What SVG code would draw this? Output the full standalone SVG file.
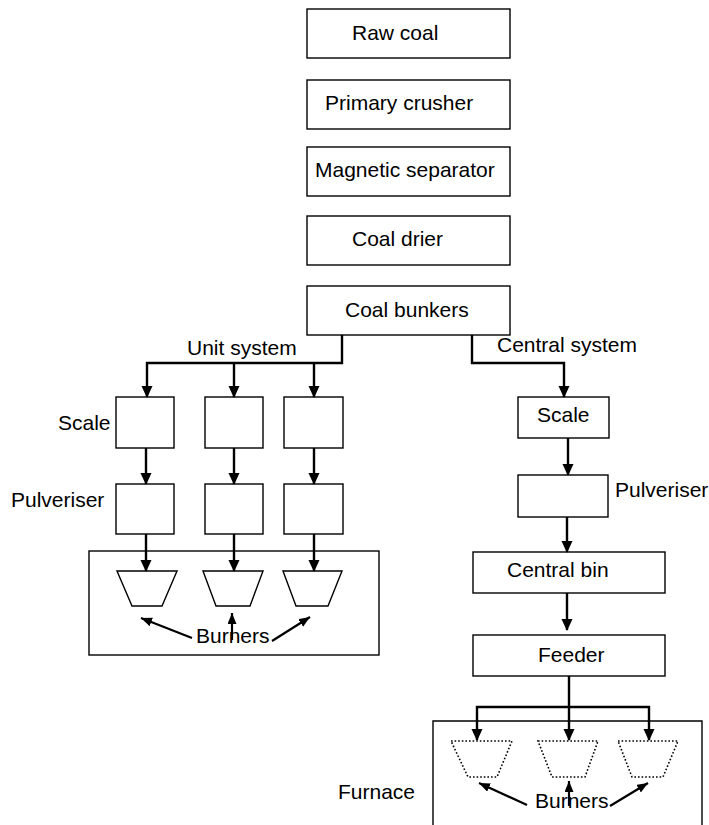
<svg xmlns="http://www.w3.org/2000/svg" width="709" height="825" viewBox="0 0 709 825">
<style>
.box{fill:#fff;stroke:#000;stroke-width:1.4}
.open{fill:none;stroke:#000;stroke-width:1.4}
.tz{fill:none;stroke:#000;stroke-width:1.4}
.tzd{fill:none;stroke:#000;stroke-width:1.6;stroke-dasharray:1.6 2}
.t{font-family:"Liberation Sans",Arial,sans-serif;font-size:21px;fill:#000}
.c{fill:none;stroke:#000;stroke-width:2.4}
.a{fill:none;stroke:#000;stroke-width:2.4;marker-end:url(#ah)}
.b{fill:none;stroke:#000;stroke-width:2.2;marker-end:url(#bh)}
</style>
<defs>
<marker id="ah" markerUnits="userSpaceOnUse" markerWidth="12" markerHeight="14" refX="11" refY="5.5" orient="auto"><path d="M0,0 L12,5.5 L0,11 z" fill="#000"/></marker>
<marker id="bh" markerUnits="userSpaceOnUse" markerWidth="12" markerHeight="12" refX="11" refY="4.5" orient="auto"><path d="M0,0 L11,4.5 L0,9 z" fill="#000"/></marker>
</defs>
<g id="raw-coal"><rect class="box" x="307" y="9" width="203" height="49"/><text class="t" x="352" y="40">Raw coal</text></g>
<g id="primary-crusher"><rect class="box" x="307" y="80" width="203" height="49"/><text class="t" x="325" y="110">Primary crusher</text></g>
<g id="magnetic-separator"><rect class="box" x="307" y="147" width="203" height="49"/><text class="t" x="315" y="177">Magnetic separator</text></g>
<g id="coal-drier"><rect class="box" x="307" y="216" width="203" height="49"/><text class="t" x="352" y="246">Coal drier</text></g>
<g id="coal-bunkers"><rect class="box" x="307" y="286" width="203" height="49"/><text class="t" x="345" y="317">Coal bunkers</text></g>
<g id="unit-scale-1"><rect class="box" x="116" y="397" width="58" height="51"/></g>
<g id="unit-scale-2"><rect class="box" x="205" y="397" width="58" height="51"/></g>
<g id="unit-scale-3"><rect class="box" x="284" y="397" width="59" height="51"/></g>
<g id="unit-pulv-1"><rect class="box" x="116" y="484" width="58" height="50"/></g>
<g id="unit-pulv-2"><rect class="box" x="205" y="484" width="58" height="50"/></g>
<g id="unit-pulv-3"><rect class="box" x="284" y="484" width="59" height="50"/></g>
<g id="unit-furnace">
<rect class="box" x="89" y="551" width="290" height="104"/>
<path class="tz" d="M117,571 H177 L162,606 H132 Z"/>
<path class="tz" d="M203,571 H263 L250,606 H216 Z"/>
<path class="tz" d="M283,571 H342 L328,606 H296 Z"/>
</g>
<g id="central-scale"><rect class="box" x="518" y="397" width="91" height="41"/><text class="t" x="537" y="422">Scale</text></g>
<g id="central-pulv"><rect class="box" x="518" y="475" width="90" height="42"/></g>
<g id="central-bin"><rect class="box" x="473" y="552" width="192" height="41"/><text class="t" x="507" y="577">Central bin</text></g>
<g id="feeder"><rect class="box" x="473" y="635" width="192" height="41"/><text class="t" x="538" y="662">Feeder</text></g>
<g id="central-furnace">
<path class="open" d="M433,825 V721 H702 V825"/>
<path class="tzd" d="M451,741 H512 L497,777 H468 Z"/>
<path class="tzd" d="M538,741 H598 L585,777 H552 Z"/>
<path class="tzd" d="M618,741 H678 L663,777 H632 Z"/>
</g>
<g id="connectors">
<path class="a" d="M342,335 V363 H147 V397"/>
<path class="a" d="M234,363 V397"/>
<path class="a" d="M314,363 V397"/>
<path class="a" d="M146,448 V484"/>
<path class="a" d="M234,448 V484"/>
<path class="a" d="M314,448 V484"/>
<path class="a" d="M146,534 V571"/>
<path class="a" d="M234,534 V571"/>
<path class="a" d="M314,534 V571"/>
<path class="a" d="M472,335 V363 H564 V397"/>
<path class="a" d="M568,438 V475"/>
<path class="a" d="M567,517 V552"/>
<path class="a" d="M567,593 V630"/>
<path class="a" d="M569,676 V740"/>
<path class="a" d="M569,707 H477 V740"/>
<path class="a" d="M569,707 H649 V740"/>
<path class="b" d="M192,638 L141,618"/>
<path class="b" d="M232,640 L232,613"/>
<path class="b" d="M272,641 L310,617"/>
<path class="b" d="M527,805 L479,783"/>
<path class="b" d="M569,806 L569,781"/>
<path class="b" d="M610,806 L648,783"/>
</g>
<g id="labels">
<text class="t" x="187" y="355">Unit system</text>
<text class="t" x="497" y="352">Central system</text>
<text class="t" x="58" y="430">Scale</text>
<text class="t" x="11" y="507">Pulveriser</text>
<text class="t" x="615" y="497">Pulveriser</text>
<text class="t" x="196" y="643">Burners</text>
<text class="t" x="535" y="808">Burners</text>
<text class="t" x="338" y="799">Furnace</text>
</g>
</svg>
